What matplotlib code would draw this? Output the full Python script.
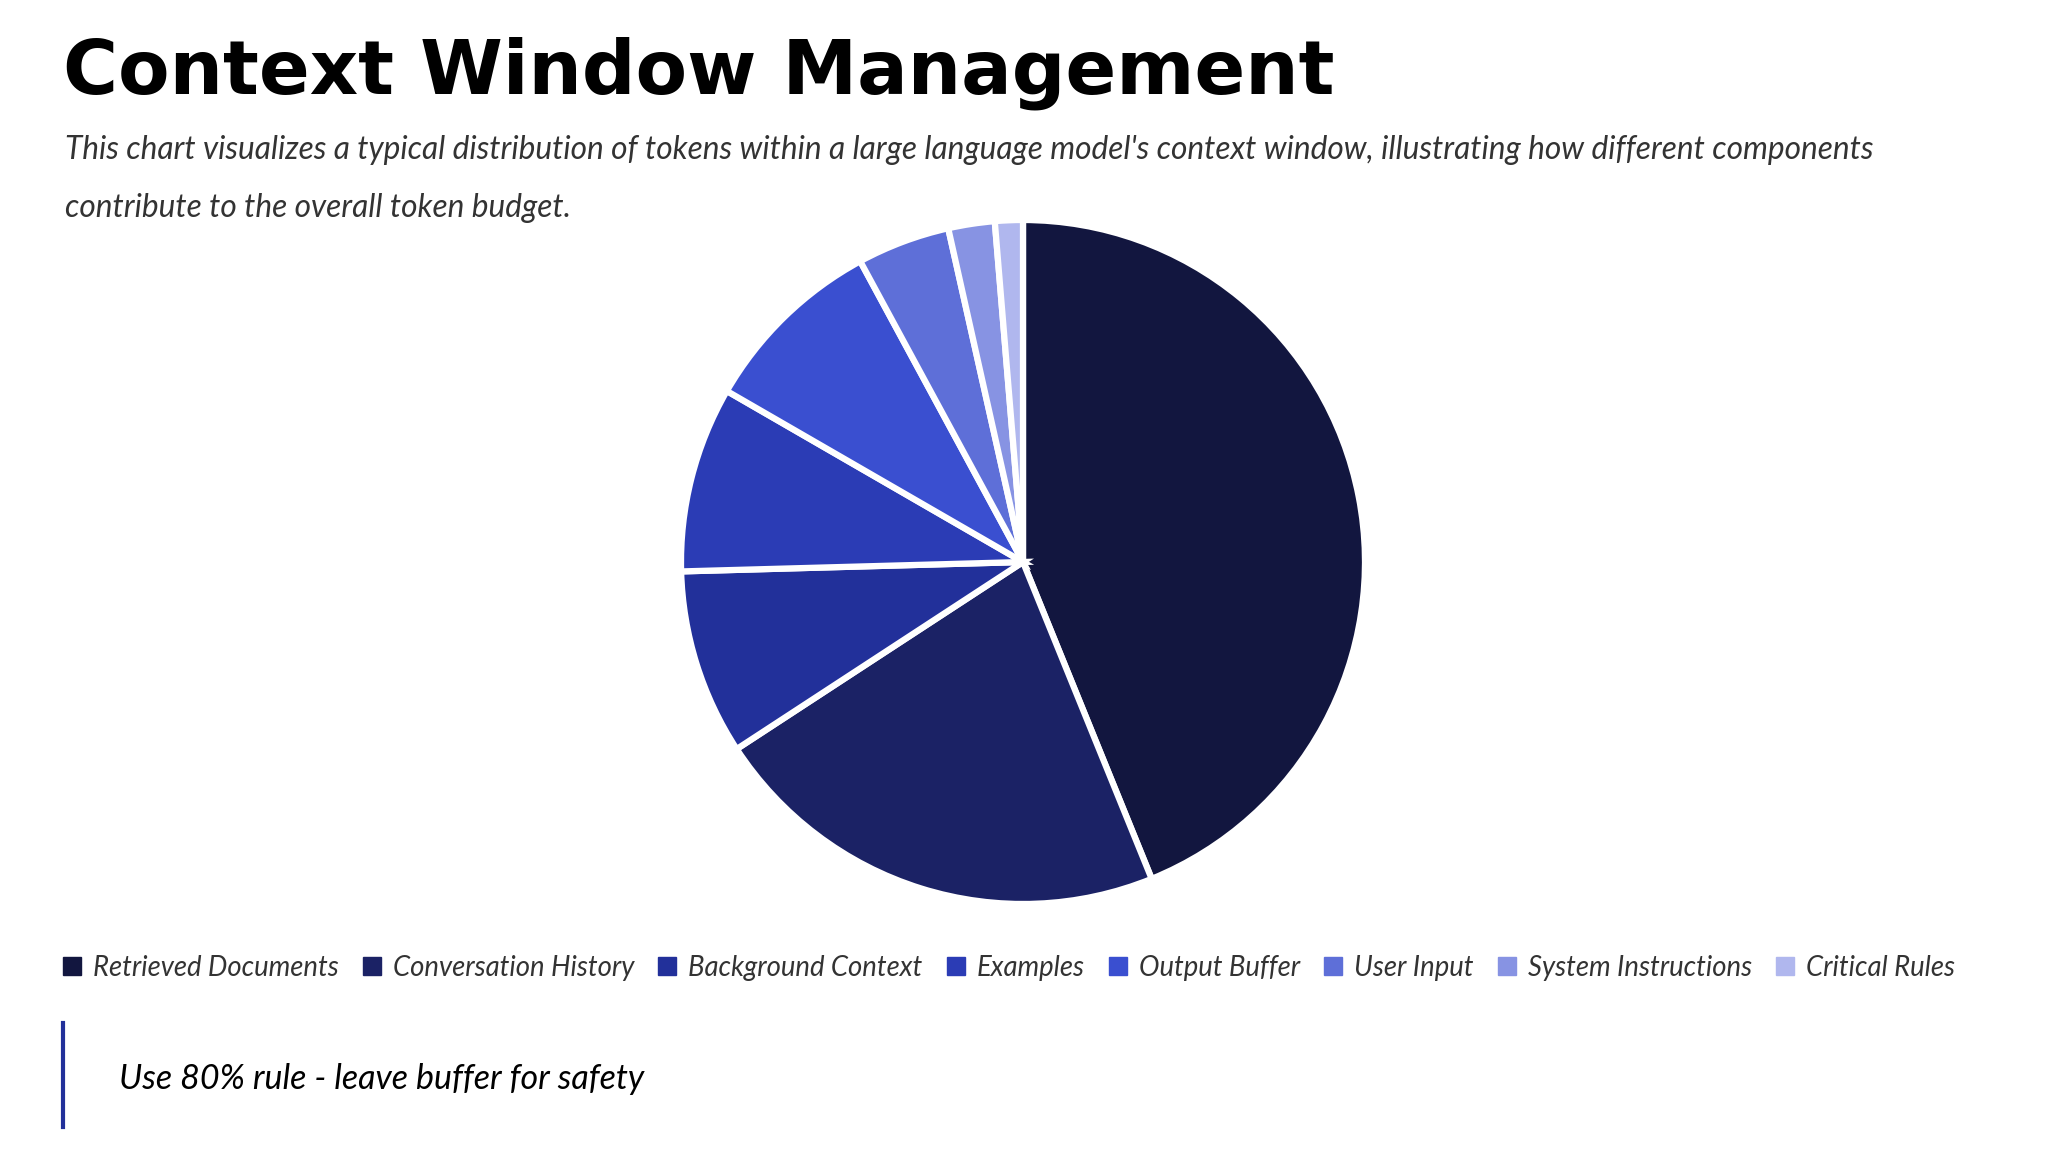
import matplotlib
matplotlib.use("Agg")
from matplotlib import pyplot as plt
from matplotlib.lines import Line2D

# datos del grafico (tokens, en miles)
categorias = ["Retrieved Documents", "Conversation History", "Background Context",
              "Examples", "Output Buffer", "User Input", "System Instructions",
              "Critical Rules"]
valores = [50, 25, 10, 10, 10, 5, 2.5, 1.5]
colores = ["#12163f", "#1b2265", "#22309a", "#2b3cb5", "#3a4fd0",
           "#5e6fd8", "#8793e3", "#b0b7ee"]

titulo = "Context Window Management"
subtitulo1 = ("This chart visualizes a typical distribution of tokens within a large language "
              "model's context window, illustrating how different components")
subtitulo2 = "contribute to the overall token budget."
nota = "Use 80% rule - leave buffer for safety"

fig = plt.figure(figsize=(20.48, 11.52), dpi=100)
fig.patch.set_facecolor("white")

# titulo y subtitulo (dos lineas separadas)
fig.text(63/2048, 1-93/1152, titulo, fontsize=54, fontweight="bold",
         family="DejaVu Sans", color="black", va="baseline")
fig.text(65/2048, 1-159/1152, subtitulo1, fontsize=22.8, style="italic",
         family="Lato", color="#333333", va="baseline")
fig.text(65/2048, 1-217/1152, subtitulo2, fontsize=22.8, style="italic",
         family="Lato", color="#333333", va="baseline")

# pastel
ax = fig.add_axes([(1023-342)/2048, (1152-562-342)/1152, 684/2048, 684/1152])
ax.pie(valores, colors=colores, startangle=90, counterclock=False,
       wedgeprops=dict(edgecolor="white", linewidth=4.5))
ax.set_xlim(-1, 1)
ax.set_ylim(-1, 1)
ax.set_aspect("equal")
ax.axis("off")

# leyenda
handles = [Line2D([], [], marker="s", linestyle="none", markersize=13,
                  markerfacecolor=c, markeredgecolor=c) for c in colores]
leg = fig.legend(handles, categorias, loc="center", bbox_to_anchor=(0.4925, 1-968/1152),
                 ncol=8, frameon=False, handlelength=0.7, handletextpad=0.4,
                 columnspacing=0.87, prop={"family": "Lato", "style": "italic", "size": 19.8})
for t in leg.get_texts():
    t.set_color("#333333")

# nota inferior
fig.add_artist(Line2D([63/2048, 63/2048], [1-1023/1152, 1-1127/1152],
                      color="#22309a", linewidth=3))
fig.text(119/2048, 1-1079/1152, nota, fontsize=24.5, style="italic",
         family="Lato", color="black", va="center")

fig.savefig("out.png", dpi=100, facecolor="white")
